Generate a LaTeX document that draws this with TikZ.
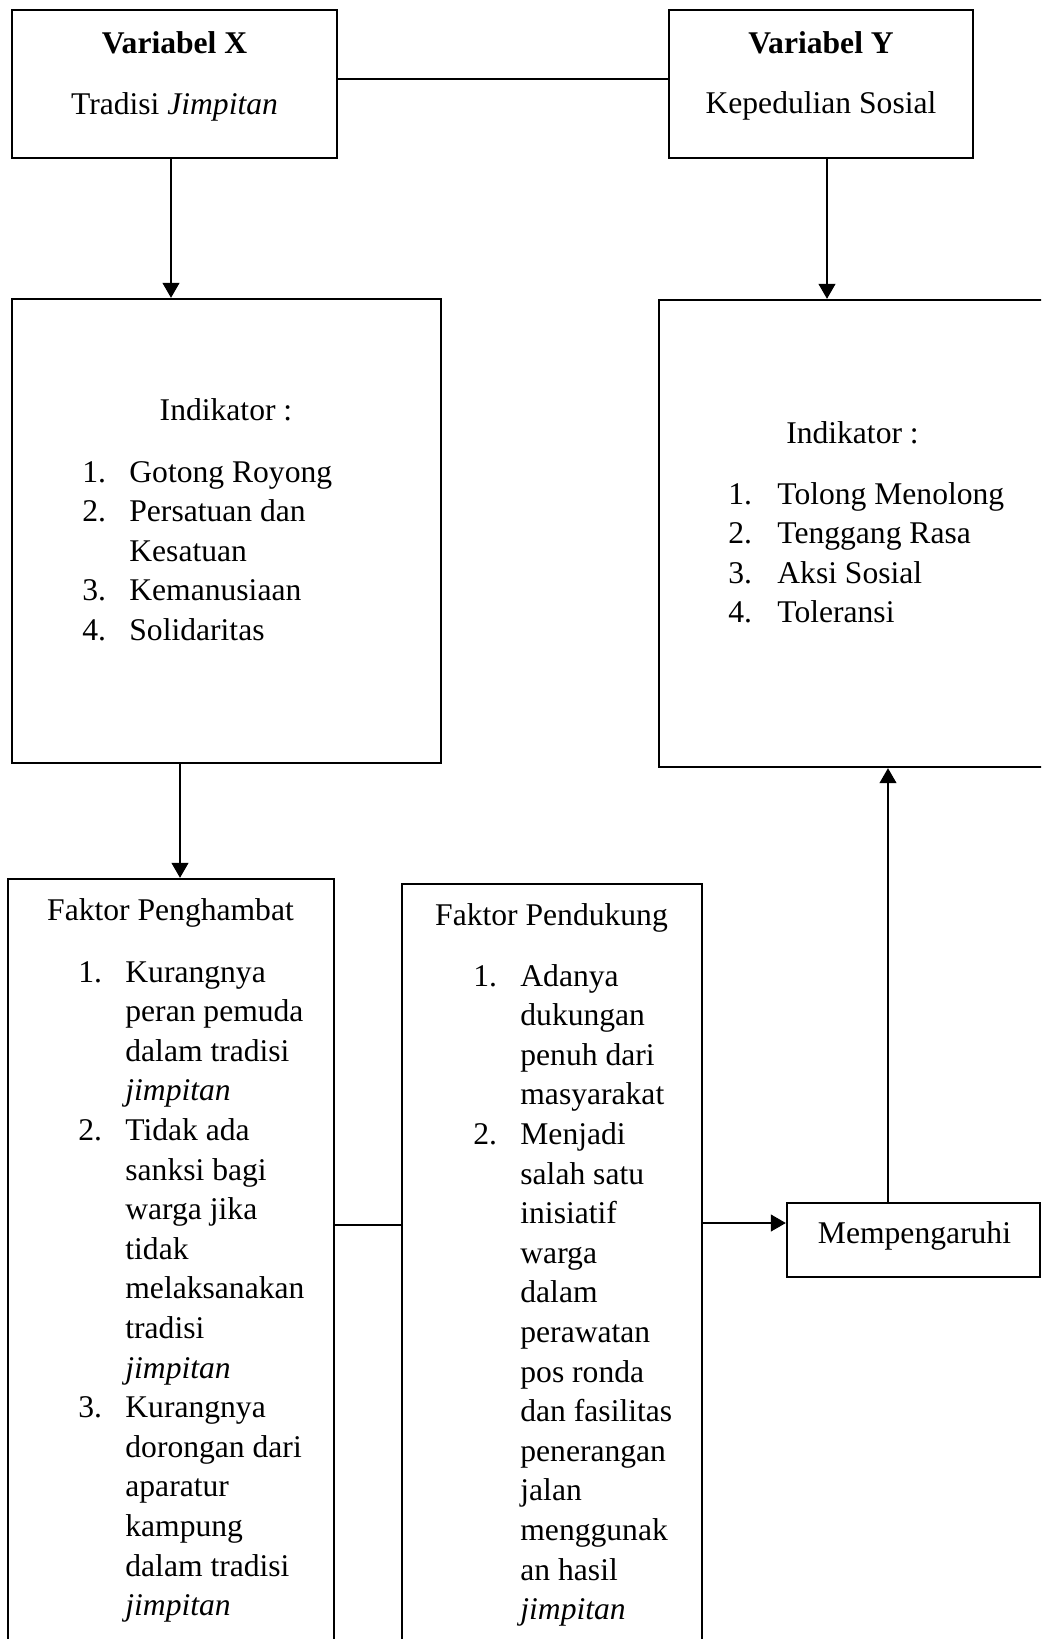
\documentclass[tikz,border=0pt]{standalone}
\usepackage{fontspec}
\setmainfont{Liberation Serif}
\usetikzlibrary{arrows.meta}
\begin{document}
\begin{tikzpicture}[x=0.5pt,y=-0.5pt,
  box/.style={draw, line width=1.2pt, inner sep=0pt},
  conn/.style={line width=0.55pt},
  arr/.style={conn, -{Triangle[length=7.5pt,width=8.5pt]}},
  txt/.style={inner sep=0pt, font=\fontsize{15.8}{19.8}\selectfont},
  ttl/.style={txt, anchor=base},
  lst/.style={txt, anchor=base west},
]
\path[use as bounding box, clip] (0,0) rectangle (1041,1639);

% boxes
\node[box, minimum width=162.5pt, minimum height=74pt] (bx) at (174.5,84) {};
\node[box, minimum width=152pt, minimum height=74pt] (by) at (821,84) {};
\node[box, minimum width=214.5pt, minimum height=232pt] (ix) at (226.5,531) {};
\node[box, minimum width=200.5pt, minimum height=233.5pt] (iy) at (859.5,533.5) {};
\node[box, minimum width=163pt, minimum height=410.5pt] (pk) at (171,1289.5) {};
\node[box, minimum width=150pt, minimum height=408pt] (pd) at (552,1292) {};
\node[box, minimum width=126.5pt, minimum height=37pt] (mp) at (913.5,1240) {};

% texts
\node[ttl] (tx1) at (174.5,53) {\textbf{Variabel X}};
\node[ttl] (tx2) at (174.5,114) {Tradisi \textit{Jimpitan}};
\node[ttl] (ty1) at (821,53) {\textbf{Variabel Y}};
\node[ttl] (ty2) at (821,113.5) {Kepedulian Sosial};

\node[ttl] (ixh) at (226,420) {Indikator :};
\node[lst] (ixl) at (82,482) {\begin{tabular}[t]{@{}p{23.5pt}@{}l@{}}
1. & Gotong Royong\\
2. & Persatuan dan\\
   & Kesatuan\\
3. & Kemanusiaan\\
4. & Solidaritas
\end{tabular}};

\node[ttl] (iyh) at (852.5,443) {Indikator :};
\node[lst] (iyl) at (728,504) {\begin{tabular}[t]{@{}p{24.5pt}@{}l@{}}
1. & Tolong Menolong\\
2. & Tenggang Rasa\\
3. & Aksi Sosial\\
4. & Toleransi
\end{tabular}};

\node[ttl] (pkh) at (170.5,920.5) {Faktor Penghambat};
\node[lst] (pkl) at (78,982) {\begin{tabular}[t]{@{}p{23.5pt}@{}l@{}}
1. & Kurangnya\\
   & peran pemuda\\
   & dalam tradisi\\
   & \textit{jimpitan}\\
2. & Tidak ada\\
   & sanksi bagi\\
   & warga jika\\
   & tidak\\
   & melaksanakan\\
   & tradisi\\
   & \textit{jimpitan}\\
3. & Kurangnya\\
   & dorongan dari\\
   & aparatur\\
   & kampung\\
   & dalam tradisi\\
   & \textit{jimpitan}
\end{tabular}};

\node[ttl] (pdh) at (551.5,925.5) {Faktor Pendukung};
\node[lst] (pdl) at (473,986) {\begin{tabular}[t]{@{}p{23.5pt}@{}l@{}}
1. & Adanya\\
   & dukungan\\
   & penuh dari\\
   & masyarakat\\
2. & Menjadi\\
   & salah satu\\
   & inisiatif\\
   & warga\\
   & dalam\\
   & perawatan\\
   & pos ronda\\
   & dan fasilitas\\
   & penerangan\\
   & jalan\\
   & menggunak\\
   & an hasil\\
   & \textit{jimpitan}
\end{tabular}};

\node[ttl] (mph) at (914.5,1243) {Mempengaruhi};

% connectors
\coordinate (r0) at (0,79);
\coordinate (r1) at (0,1225);
\coordinate (r2) at (0,1223);
\coordinate (c1) at (171,0);
\coordinate (c2) at (827,0);
\coordinate (c3) at (180,0);
\coordinate (c4) at (888,0);

\draw[conn] (bx.east |- r0) -- (by.west |- r0);
\draw[arr] (bx.south -| c1) -- (ix.north -| c1);
\draw[arr] (by.south -| c2) -- (iy.north -| c2);
\draw[arr] (ix.south -| c3) -- (pk.north -| c3);
\draw[conn] (pk.east |- r1) -- (pd.west |- r1);
\draw[arr] (pd.east |- r2) -- (mp.west |- r2);
\draw[arr] (mp.north -| c4) -- (iy.south -| c4);
\end{tikzpicture}
\end{document}
